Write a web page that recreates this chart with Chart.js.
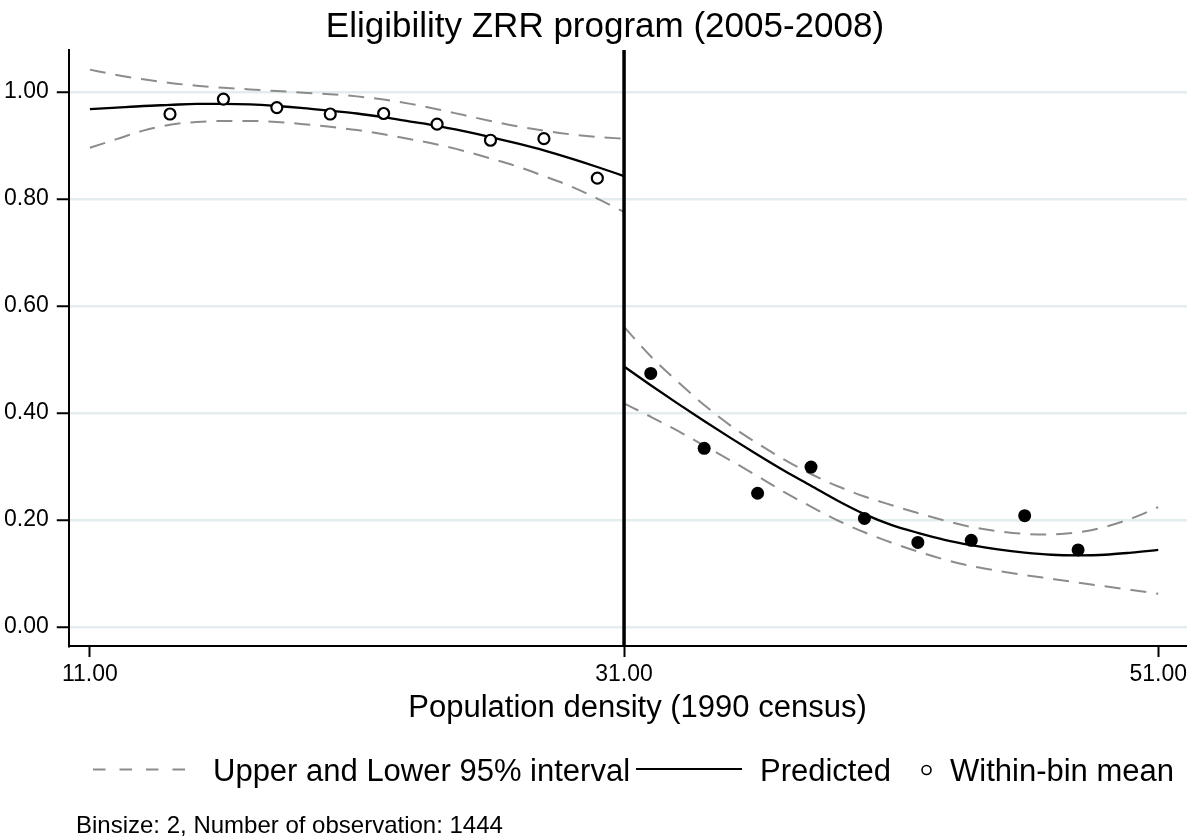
<!DOCTYPE html>
<html>
<head>
<meta charset="utf-8">
<script src="https://cdn.jsdelivr.net/npm/chart.js@4.4.1/dist/chart.umd.min.js"></script>
<style>
  html, body { margin: 0; padding: 0; background: #fff; overflow: hidden; }
  #wrap { position: relative; width: 1187px; height: 837px; overflow: hidden; }
  canvas { position: absolute; left: 0; top: 0; }
  .txt { position: absolute; font-family: "Liberation Sans", Arial, sans-serif; color: #000; white-space: nowrap; }
  .leg { font-size: 31px; line-height: 31px; top: 755px; }
  #note { font-size: 24px; line-height: 24px; top: 813px; left: 76px; }
  #legsvg { position: absolute; left: 0; top: 750px; }
</style>
</head>
<body>
<div id="wrap">
  <canvas id="rd-chart" width="1214" height="837"></canvas>
  <svg id="legsvg" width="1187" height="40">
    <line x1="93" y1="19.5" x2="193" y2="19.5" stroke="#8c8c8c" stroke-width="2" stroke-dasharray="12.5 14"/>
    <line x1="636" y1="19" x2="742" y2="19" stroke="#000" stroke-width="2"/>
    <circle cx="926.5" cy="20" r="4.5" fill="#fff" stroke="#000" stroke-width="1.6"/>
  </svg>
  <span class="txt leg" style="left:213px">Upper and Lower 95% interval</span>
  <span class="txt leg" style="left:760px">Predicted</span>
  <span class="txt leg" style="left:950px">Within-bin mean</span>
  <span class="txt" id="note">Binsize: 2, Number of observation: 1444</span>
</div>
<script>
// fitted curves, left of the cutoff
const xLeft = [11, 12, 13, 14, 15, 16, 17, 18, 19, 20, 21, 22, 23, 24, 25, 26, 27, 28, 29, 30, 31];
const predLeft = [0.968, 0.971, 0.974, 0.976, 0.978, 0.978, 0.977, 0.974, 0.970, 0.965, 0.960, 0.953, 0.945, 0.937, 0.927, 0.916, 0.904, 0.891, 0.876, 0.860, 0.843];
const upperLeft = [1.042, 1.032, 1.024, 1.017, 1.012, 1.008, 1.005, 1.002, 0.999, 0.996, 0.992, 0.986, 0.978, 0.968, 0.957, 0.946, 0.936, 0.928, 0.921, 0.916, 0.913];
const lowerLeft = [0.896, 0.912, 0.928, 0.939, 0.944, 0.946, 0.946, 0.944, 0.940, 0.935, 0.929, 0.921, 0.912, 0.902, 0.890, 0.876, 0.861, 0.843, 0.824, 0.801, 0.776];

// fitted curves, right of the cutoff
const xRight = [31, 32, 33, 34, 35, 36, 37, 38, 39, 40, 41, 42, 43, 44, 45, 46, 47, 48, 49, 50, 51];
const predRight = [0.487, 0.452, 0.418, 0.385, 0.353, 0.322, 0.292, 0.264, 0.236, 0.211, 0.191, 0.176, 0.163, 0.153, 0.145, 0.139, 0.135, 0.134, 0.135, 0.139, 0.144];
const upperRight = [0.561, 0.506, 0.459, 0.415, 0.376, 0.343, 0.313, 0.286, 0.263, 0.244, 0.228, 0.213, 0.199, 0.187, 0.179, 0.174, 0.173, 0.177, 0.187, 0.203, 0.224];
const lowerRight = [0.418, 0.393, 0.367, 0.339, 0.311, 0.282, 0.252, 0.225, 0.199, 0.177, 0.158, 0.141, 0.126, 0.114, 0.105, 0.097, 0.090, 0.083, 0.076, 0.069, 0.062];

// within-bin means
const binLeft = [14, 16, 18, 20, 22, 24, 26, 28, 30];
const meanLeft = [0.959, 0.987, 0.971, 0.959, 0.960, 0.940, 0.910, 0.913, 0.839];
const binRight = [32, 34, 36, 38, 40, 42, 44, 46, 48];
const meanRight = [0.474, 0.334, 0.250, 0.299, 0.203, 0.158, 0.162, 0.208, 0.144];

const cutoff = 31;
const xTicks = [11, 31, 51];
const yTicks = [0, 0.2, 0.4, 0.6, 0.8, 1.0];
const xMin = 10.21, xMax = 52.8;
const yMin = -0.0356, yMax = 1.0787;

const FONT = "'Liberation Sans', Arial, sans-serif";
const pts = (xs, ys) => xs.map((x, i) => ({ x: x, y: ys[i] }));

const ciStyle = { borderColor: '#8c8c8c', borderWidth: 2, borderDash: [16, 10], pointRadius: 0, cubicInterpolationMode: 'monotone', fill: false, order: 3 };
const fitStyle = { borderColor: '#000', borderWidth: 2.3, pointRadius: 0, cubicInterpolationMode: 'monotone', fill: false, order: 2 };

new Chart(document.getElementById("rd-chart"), {
    type: 'line',
    data: {
        datasets: [
            Object.assign({ label: "Upper 95% (left)", data: pts(xLeft, upperLeft) }, ciStyle),
            Object.assign({ label: "Lower 95% (left)", data: pts(xLeft, lowerLeft) }, ciStyle),
            Object.assign({ label: "Upper 95% (right)", data: pts(xRight, upperRight) }, ciStyle),
            Object.assign({ label: "Lower 95% (right)", data: pts(xRight, lowerRight) }, ciStyle),
            Object.assign({ label: "Predicted (left)", data: pts(xLeft, predLeft) }, fitStyle),
            Object.assign({ label: "Predicted (right)", data: pts(xRight, predRight) }, fitStyle),
            {
                label: "Cutoff",
                data: [{ x: cutoff, y: yMin }, { x: cutoff, y: yMax }],
                borderColor: '#000', borderWidth: 3.5, pointRadius: 0, order: 1
            },
            {
                label: "Within-bin mean (left)",
                data: pts(binLeft, meanLeft),
                showLine: false, pointRadius: 5.5, pointBorderWidth: 2.2,
                pointBackgroundColor: '#fff', pointBorderColor: '#000', order: 0
            },
            {
                label: "Within-bin mean (right)",
                data: pts(binRight, meanRight),
                showLine: false, pointRadius: 6.5, pointBorderWidth: 0,
                pointBackgroundColor: '#000', pointBorderColor: '#000', order: 0
            }
        ]
    },
    options: {
        responsive: false,
        animation: false,
        events: [],
        layout: { padding: { left: -4, right: 0, top: 0, bottom: 113 } },
        plugins: {
            legend: { display: false },
            tooltip: { enabled: false },
            title: {
                display: true,
                text: 'Eligibility ZRR program (2005-2008)',
                color: '#000',
                font: { family: FONT, size: 35, weight: 'normal' },
                padding: { top: 6, bottom: 2 }
            }
        },
        scales: {
            x: {
                type: 'linear',
                min: xMin,
                max: xMax,
                afterBuildTicks: axis => { axis.ticks = xTicks.map(v => ({ value: v })); },
                ticks: {
                    color: '#000',
                    padding: 6.5,
                    maxRotation: 0,
                    font: { family: FONT, size: 23, lineHeight: 1 },
                    callback: v => Number(v).toFixed(2)
                },
                grid: { drawOnChartArea: false, tickLength: 11, tickColor: '#000', tickWidth: 2 },
                border: { color: '#000', width: 2 },
                title: {
                    display: true,
                    text: 'Population density (1990 census)',
                    color: '#000',
                    font: { family: FONT, size: 31, lineHeight: 1 },
                    padding: { top: 0, bottom: 0 }
                }
            },
            y: {
                min: yMin,
                max: yMax,
                afterBuildTicks: axis => { axis.ticks = yTicks.map(v => ({ value: v })); },
                ticks: {
                    color: '#000',
                    padding: 8,
                    font: { family: FONT, size: 23 },
                    callback: v => Number(v).toFixed(2)
                },
                grid: { color: '#e3edef', lineWidth: 2.5, tickLength: 12, tickColor: '#000', tickWidth: 2 },
                border: { color: '#000', width: 2 }
            }
        }
    }
});
</script>
</body>
</html>
